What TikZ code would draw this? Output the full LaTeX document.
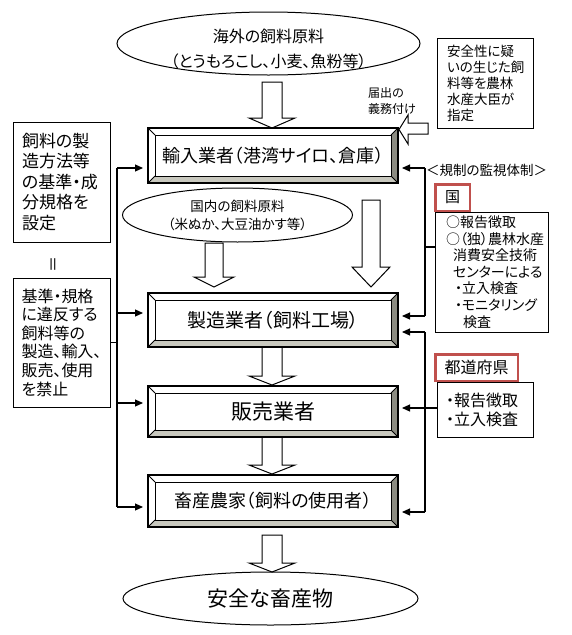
\documentclass[tikz,border=0pt]{standalone}
\usepackage{fontspec}
\setmainfont{Noto Sans CJK JP}[RawFeature={+palt}]
\usetikzlibrary{shapes.geometric,arrows.meta}
\definecolor{bevdark}{RGB}{140,140,130}
\definecolor{bevlight}{RGB}{200,200,190}
\definecolor{redframe}{RGB}{192,80,77}
\newcommand\fsz[2]{\fontsize{#1}{#2}\selectfont}
\newcommand\blockdown[6]{%
  \draw[blockarrow] ({#1-#5},#2) -- ({#1+#5},#2) -- ({#1+#5},#3) -- ({#1+#6},#3) -- (#1,#4) -- ({#1-#6},#3) -- ({#1-#5},#3) -- cycle;}
\tikzset{
  wire/.style={line width=1.1pt},
  feed/.style={line width=1.1pt,-{Triangle[length=8pt,width=7pt]}},
  blockarrow/.style={draw=black,fill=white,line width=1pt,line join=miter},
  oval/.style={ellipse,draw,line width=1pt,inner sep=0pt,align=center},
  plainbox/.style={draw,line width=1pt,inner sep=0pt,align=left,fill=white},
  redbox/.style={draw=redframe,line width=2.5pt,inner sep=0pt,fill=white},
  bevel/.style={draw,line width=1.2pt,fill=white,inner sep=0pt,minimum width=250pt,
    path picture={
      \fill[bevdark] (path picture bounding box.north east) -- (path picture bounding box.south east)
        -- ([shift={(-7pt,7pt)}]path picture bounding box.south east)
        -- ([shift={(-7pt,-7pt)}]path picture bounding box.north east) -- cycle;
      \fill[bevlight] (path picture bounding box.south west) -- (path picture bounding box.south east)
        -- ([shift={(-7pt,7pt)}]path picture bounding box.south east)
        -- ([shift={(7pt,7pt)}]path picture bounding box.south west) -- cycle;
      \draw[line width=1pt] ([shift={(7pt,-7pt)}]path picture bounding box.north west)
        rectangle ([shift={(-7pt,7pt)}]path picture bounding box.south east);
      \draw[line width=1pt] (path picture bounding box.north west) -- ++(7pt,-7pt)
        (path picture bounding box.north east) -- ++(-7pt,-7pt)
        (path picture bounding box.south west) -- ++(7pt,7pt)
        (path picture bounding box.south east) -- ++(-7pt,7pt);
    }},
}
\begin{document}
\begin{tikzpicture}[x=1pt,y=-1pt]
\fill[white] (0,0) rectangle (571,635);
\useasboundingbox (0,0) rectangle (571,635);

% block arrows
\blockdown{272}{82}{118}{128}{10}{23}
\blockdown{214}{243}{277}{287}{9}{20}
\blockdown{371}{200}{267}{287}{9}{19}
\blockdown{272}{347}{376}{385}{10}{23}
\blockdown{272}{437}{465}{474}{10}{23}
\blockdown{272}{535}{563}{572}{10}{23}
\draw[blockarrow] (428,123) -- (408,123) -- (408,115) -- (399,129.5) -- (408,144) -- (408,134) -- (428,134) -- cycle;

% ellipses
\node[oval,minimum width=303pt,minimum height=63pt] (overseas) at (268.5,43.5) {};
\node[font=\fsz{16}{25},align=center,text width=260pt,inner sep=0pt] (overseasTxt) at (268.5,49) {海外の飼料原料\\（とうもろこし、小麦、魚粉等）};
\node[oval,minimum width=230pt,minimum height=54pt,font=\fsz{13.5}{18}] (dom) at (237.5,215) {国内の飼料原料\\（米ぬか、大豆油かす等）};
\node[oval,minimum width=295pt,minimum height=53pt,font=\fsz{21}{21}] (safe) at (270.5,598.5) {安全な畜産物};

% bevel boxes
\node[bevel,minimum height=55pt,font=\fsz{18}{18}] (imp) at (273,155.5) {輸入業者（港湾サイロ、倉庫）};
\node[bevel,minimum height=54pt,font=\fsz{19}{19}] (mfg) at (273,320) {製造業者（飼料工場）};
\node[bevel,minimum height=51pt,font=\fsz{21}{21}] (sales) at (273,411.5) {販売業者};
\node[bevel,minimum height=52pt,font=\fsz{18}{18}] (farm) at (273,501) {畜産農家（飼料の使用者）};

% left boxes
\node[plainbox,minimum width=97pt,minimum height=120pt,text width=79pt,font=\fsz{17}{20.5}] (stdBox) at (61.5,182) {飼料の製\\造方法等\\の基準・成\\分規格を\\設定};
\node[font=\fsz{16}{16},rotate=90] (eqSign) at (55.5,264) {＝};
\node[plainbox,minimum width=97pt,minimum height=129pt,text width=80pt,font=\fsz{16}{18.6}] (banBox) at (61.5,342.5) {基準・規格\\に違反する\\飼料等の\\製造、輸入、\\販売、使用\\を禁止};

% right side boxes
\node[plainbox,minimum width=96pt,minimum height=90pt,text width=76pt,font=\fsz{13.5}{16}] (desig) at (485,83) {安全性に疑\\いの生じた飼\\料等を農林\\水産大臣が\\指定};
\node[font=\fsz{12}{16},align=left,text width=50pt,anchor=west,inner sep=0pt] (notice) at (368,101) {届出の\\義務付け};
\node[font=\fsz{13.5}{14},anchor=west,inner sep=0pt] (monLbl) at (426,170) {＜規制の監視体制＞};

\node[plainbox,minimum width=113pt,minimum height=120pt,text width=91pt,font=\fsz{14}{16.6}] (natBody) at (491.5,272) {○報告徴取\\○（独）農林水産\\\hspace*{7pt}消費安全技術\\\hspace*{7pt}センターによる\\\hspace*{9pt}・立入検査\\\hspace*{9pt}・モニタリング\\\hspace*{17pt}検査};
\node[redbox,minimum width=34.5pt,minimum height=26.5pt,font=\fsz{15}{15}] (nat) at (452.5,197.5) {国};

\node[plainbox,minimum width=96pt,minimum height=55pt,text width=78pt,font=\fsz{16}{19}] (prefBody) at (485,409.5) {・報告徴取\\・立入検査};
\node[redbox,minimum width=82.5pt,minimum height=26.5pt,font=\fsz{16}{16}] (pref) at (476.5,367.5) {都道府県};

% left bus
\coordinate (lTop) at (117,168);
\coordinate (lBot) at (117,507);
\draw[wire] (lTop) -- (lBot);
\draw[wire] (banBox.east) -- (banBox.east -| lTop);
\draw[feed] (lTop) -- (143,168);
\draw[feed] (117,313) -- (143,313);
\draw[feed] (117,403) -- (143,403);
\draw[feed] (lBot) -- (143,507);

% right buses
\coordinate (rATop) at (425,168);
\coordinate (rABot) at (425,316);
\draw[wire] (rATop) -- (rABot);
\draw[feed] (rATop) -- (402,168);
\draw[feed] (rABot) -- (402,316);
\draw[wire] (425,247) -- (natBody.west |- 0,247);

\coordinate (rBTop) at (425,332);
\coordinate (rBBot) at (425,512);
\draw[wire] (rBTop) -- (rBBot);
\draw[feed] (rBTop) -- (402,332);
\draw[feed] (rBBot) -- (402,512);
\draw[feed] (prefBody.west |- 0,408) -- (402,408);
\end{tikzpicture}
\end{document}
